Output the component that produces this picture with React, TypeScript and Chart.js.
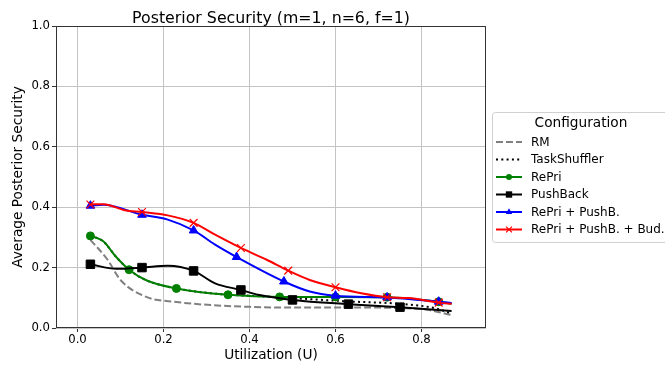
import React, { useEffect, useRef } from 'react';
import { Chart, registerables } from 'chart.js';

Chart.register(...registerables);

const FONT = '"DejaVu Sans", "Liberation Sans", sans-serif';

const chartTitle = 'Posterior Security (m=1, n=6, f=1)';
const xTitle = 'Utilization (U)';
const yTitle = 'Average Posterior Security';
const legendTitle = 'Configuration';

const xTicks = [0, 0.2, 0.4, 0.6, 0.8];
const yTicks = [0, 0.2, 0.4, 0.6, 0.8, 1.0];

// RM (dashed gray)
const rmU = [0.03, 0.07, 0.10, 0.16, 0.23, 0.31, 0.40, 0.47, 0.63, 0.75, 0.81, 0.87];
const rmS = [0.292, 0.226, 0.159, 0.103, 0.086, 0.076, 0.070, 0.068, 0.068, 0.066, 0.061, 0.043];

// TaskShuffler (dotted black)
const tsU = [0.03, 0.06, 0.09, 0.12, 0.16, 0.23, 0.35, 0.40, 0.50, 0.63, 0.75, 0.83, 0.87];
const tsS = [0.305, 0.287, 0.235, 0.193, 0.158, 0.131, 0.110, 0.107, 0.099, 0.088, 0.080, 0.066, 0.048];

// RePri (green, circles)
const repriU = [0.03, 0.06, 0.09, 0.12, 0.16, 0.23, 0.35, 0.47, 0.60, 0.72, 0.84, 0.87];
const repriS = [0.305, 0.287, 0.235, 0.193, 0.158, 0.131, 0.110, 0.103, 0.103, 0.102, 0.087, 0.080];
const repriMarks = [0.03, 0.12, 0.23, 0.35, 0.47, 0.60, 0.72, 0.84];

// PushBack (black, squares)
const pbU = [0.03, 0.09, 0.15, 0.21, 0.27, 0.32, 0.38, 0.42, 0.50, 0.63, 0.75, 0.87];
const pbS = [0.211, 0.196, 0.200, 0.206, 0.189, 0.148, 0.126, 0.110, 0.093, 0.079, 0.069, 0.056];
const pbMarks = [0.03, 0.15, 0.27, 0.38, 0.50, 0.63, 0.75];

// RePri + PushB. (blue, triangles)
const rpU = [0.03, 0.06, 0.15, 0.21, 0.27, 0.32, 0.37, 0.48, 0.54, 0.60, 0.72, 0.84, 0.87];
const rpS = [0.405, 0.408, 0.375, 0.359, 0.323, 0.276, 0.235, 0.154, 0.121, 0.107, 0.101, 0.087, 0.083];
const rpMarks = [0.03, 0.15, 0.27, 0.37, 0.48, 0.60, 0.72, 0.84];

// RePri + PushB. + Bud. (red, x)
const rbU = [0.03, 0.06, 0.11, 0.15, 0.21, 0.27, 0.32, 0.38, 0.44, 0.49, 0.54, 0.60, 0.66, 0.72, 0.77, 0.84, 0.87];
const rbS = [0.409, 0.410, 0.390, 0.384, 0.373, 0.348, 0.309, 0.265, 0.226, 0.190, 0.159, 0.135, 0.115, 0.102, 0.099, 0.084, 0.080];
const rbMarks = [0.03, 0.15, 0.27, 0.38, 0.49, 0.60, 0.72, 0.84];

const seriesLabels = ['RM', 'TaskShuffler', 'RePri', 'PushBack', 'RePri + PushB.', 'RePri + PushB. + Bud.'];

type Spec = {
  label: string;
  xs: number[];
  ys: number[];
  marks: number[];
  color: string;
  dash: number[];
  marker: string | null;
  radius: number;
};

const specs: Spec[] = [
  { label: seriesLabels[0], xs: rmU, ys: rmS, marks: [], color: '#808080', dash: [7, 3], marker: null, radius: 0 },
  { label: seriesLabels[1], xs: tsU, ys: tsS, marks: [], color: '#000000', dash: [2, 3.3], marker: null, radius: 0 },
  { label: seriesLabels[2], xs: repriU, ys: repriS, marks: repriMarks, color: '#008000', dash: [], marker: 'circle', radius: 4 },
  { label: seriesLabels[3], xs: pbU, ys: pbS, marks: pbMarks, color: '#000000', dash: [], marker: 'rect', radius: 6 },
  { label: seriesLabels[4], xs: rpU, ys: rpS, marks: rpMarks, color: '#0000ff', dash: [], marker: 'triangle', radius: 5 },
  { label: seriesLabels[5], xs: rbU, ys: rbS, marks: rbMarks, color: '#ff0000', dash: [], marker: 'crossRot', radius: 5.5 },
];

function drawMarker(ctx: CanvasRenderingContext2D, style: string, x: number, y: number, r: number, color: string) {
  ctx.save();
  ctx.setLineDash([]);
  ctx.fillStyle = color;
  ctx.strokeStyle = color;
  ctx.lineWidth = 1.2;
  ctx.beginPath();
  if (style === 'circle') {
    ctx.arc(x, y, r, 0, Math.PI * 2);
    ctx.fill();
  } else if (style === 'rect') {
    const s = r * Math.SQRT1_2;
    ctx.rect(x - s, y - s, 2 * s, 2 * s);
    ctx.fill();
  } else if (style === 'triangle') {
    const a = -Math.PI / 2;
    for (let i = 0; i < 3; i++) {
      const ang = a + (i * 2 * Math.PI) / 3;
      const px = x + Math.cos(ang) * r;
      const py = y + Math.sin(ang) * r;
      if (i === 0) ctx.moveTo(px, py);
      else ctx.lineTo(px, py);
    }
    ctx.closePath();
    ctx.fill();
  } else if (style === 'crossRot') {
    const d = r * Math.SQRT1_2;
    ctx.moveTo(x - d, y - d);
    ctx.lineTo(x + d, y + d);
    ctx.moveTo(x - d, y + d);
    ctx.lineTo(x + d, y - d);
    ctx.stroke();
  }
  ctx.restore();
}

const decorPlugin = {
  id: 'decor',
  afterDatasetsDraw(chart: any) {
    const { ctx, chartArea } = chart;
    const l = Math.round(chartArea.left) + 0.5;
    const t = Math.round(chartArea.top) + 0.5;
    const r = Math.round(chartArea.right) - 0.5;
    const b = Math.round(chartArea.bottom) - 0.5;
    ctx.save();
    ctx.strokeStyle = '#333333';
    ctx.lineWidth = 1;
    ctx.setLineDash([]);
    ctx.strokeRect(l, t, r - l, b - t);
    ctx.restore();
  },
  afterDraw(chart: any) {
    const { ctx, chartArea } = chart;
    ctx.save();
    // title
    ctx.fillStyle = '#000';
    ctx.font = `15.8px ${FONT}`;
    ctx.textAlign = 'center';
    ctx.textBaseline = 'alphabetic';
    ctx.fillText(chartTitle, (chartArea.left + chartArea.right) / 2, 22.5);

    // legend box
    const bx = 492.5, by = 112.5, bw = 177, bh = 130;
    ctx.beginPath();
    if ((ctx as any).roundRect) (ctx as any).roundRect(bx, by, bw, bh, 3);
    else ctx.rect(bx, by, bw, bh);
    ctx.fillStyle = 'rgba(255,255,255,0.85)';
    ctx.fill();
    ctx.strokeStyle = '#d0d0d0';
    ctx.lineWidth = 1;
    ctx.stroke();

    ctx.fillStyle = '#000';
    ctx.font = `13.7px ${FONT}`;
    ctx.textAlign = 'center';
    ctx.textBaseline = 'middle';
    ctx.fillText(legendTitle, bx + bw / 2, 123.5);

    const rowY = [142, 159.5, 177, 194.5, 212, 229.5];
    ctx.font = `12px ${FONT}`;
    ctx.textAlign = 'left';
    specs.forEach((s, i) => {
      const y = rowY[i];
      ctx.save();
      ctx.strokeStyle = s.color;
      ctx.lineWidth = 2;
      ctx.setLineDash(s.dash);
      ctx.beginPath();
      ctx.moveTo(496, y);
      ctx.lineTo(522, y);
      ctx.stroke();
      ctx.restore();
      if (s.marker) drawMarker(ctx, s.marker, 509, y, s.radius * 0.75, s.color);
      ctx.fillStyle = '#000';
      ctx.fillText(s.label, 531, y + 0.5);
    });
    ctx.restore();
  },
};

export default function App() {
  const canvasRef = useRef<HTMLCanvasElement | null>(null);

  useEffect(() => {
    document.body.style.margin = '0';
    const canvas = canvasRef.current;
    if (!canvas) return;
    Chart.defaults.font.family = FONT;

    const datasets = specs.map((s, i) => {
      const data = s.xs.map((x, k) => ({ x, y: s.ys[k] }));
      return {
        label: s.label,
        data,
        borderColor: s.color,
        backgroundColor: s.color,
        borderWidth: 2,
        borderDash: s.dash,
        fill: false,
        cubicInterpolationMode: 'monotone' as const,
        pointStyle: s.marker || 'circle',
        pointRadius: (c: any) => (c.raw && s.marks.includes(c.raw.x) ? s.radius : 0),
        pointHoverRadius: 0,
        pointBackgroundColor: s.color,
        pointBorderColor: s.color,
        pointBorderWidth: s.marker === 'crossRot' ? 1.2 : 1,
        order: specs.length - 1 - i,
      };
    });

    const chart = new Chart(canvas, {
      type: 'line',
      data: { datasets },
      options: {
        animation: false,
        responsive: false,
        events: [],
        layout: { padding: { top: 26, right: 179, left: 0, bottom: 0 } },
        plugins: {
          legend: { display: false },
          title: { display: false },
          tooltip: { enabled: false },
        },
        scales: {
          x: {
            type: 'linear',
            min: -0.05,
            max: 0.95,
            afterBuildTicks: (scale: any) => {
              scale.ticks = xTicks.map((v) => ({ value: v }));
            },
            afterFit: (scale: any) => {
              scale.height = 37;
            },
            border: { display: false },
            grid: {
              color: '#c4c4c4',
              lineWidth: 1,
              drawTicks: true,
              tickLength: 4,
              tickColor: '#333333',
            },
            ticks: {
              color: '#000',
              font: { size: 11.7, family: FONT },
              padding: 1,
              maxRotation: 0,
              autoSkip: false,
              callback: (v: any) => Number(v).toFixed(1),
            },
            title: {
              display: true,
              text: xTitle,
              color: '#000',
              font: { size: 13.7, family: FONT },
              padding: { top: 0, bottom: 1.8 },
            },
          },
          y: {
            type: 'linear',
            min: 0,
            max: 1,
            afterBuildTicks: (scale: any) => {
              scale.ticks = yTicks.map((v) => ({ value: v }));
            },
            afterFit: (scale: any) => {
              scale.width = 56;
            },
            border: { display: false },
            grid: {
              color: '#c4c4c4',
              lineWidth: 1,
              drawTicks: true,
              tickLength: 4,
              tickColor: '#333333',
            },
            ticks: {
              color: '#000',
              font: { size: 11.7, family: FONT },
              padding: 2,
              autoSkip: false,
              callback: (v: any) => Number(v).toFixed(1),
            },
            title: {
              display: true,
              text: yTitle,
              color: '#000',
              font: { size: 13.7, family: FONT },
              padding: { top: 9.8, bottom: 0 },
            },
          },
        },
      },
      plugins: [decorPlugin],
    } as any);

    return () => {
      chart.destroy();
    };
  }, []);

  return (
    <div style={{ width: 665, height: 365 }}>
      <canvas ref={canvasRef} width={665} height={365} style={{ display: 'block', width: 665, height: 365 }} />
    </div>
  );
}
